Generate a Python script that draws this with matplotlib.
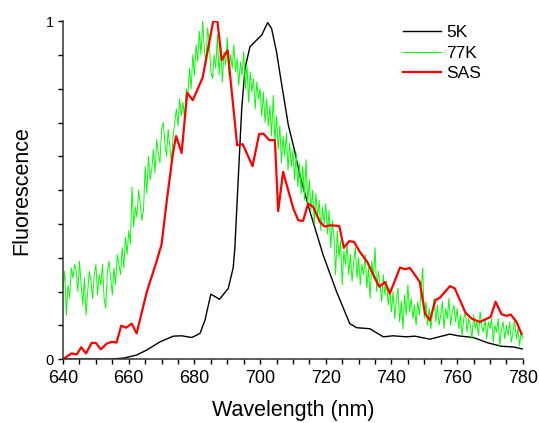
import numpy as np
import matplotlib
matplotlib.use("Agg")
from matplotlib import pyplot as plt
from matplotlib.ticker import MultipleLocator

# 5K emission (wavelength, intensity)
wl_5k = [640, 654.3, 658.4, 662.4, 665.5, 669.5, 673.6, 676.1, 679.2, 681.7, 683.2,
         685.0, 686.3, 687.6, 690.3, 691.8, 692.3, 693.3, 694.4, 695.4, 696.9, 698.4,
         700.5, 702.3, 703.5, 705.0, 706.6, 708.6, 710.6, 712.1, 715.2, 719.2, 723.3,
         727.3, 729.4, 733.4, 737.5, 740.5, 744.6, 747.1, 751.7, 757.8, 760.3, 764.9,
         769.4, 773.5, 777.1, 780]
fl_5k = [0.0, 0.0, 0.003, 0.012, 0.027, 0.051, 0.068, 0.069, 0.064, 0.076, 0.115,
         0.192, 0.185, 0.177, 0.209, 0.27, 0.327, 0.525, 0.741, 0.86, 0.924, 0.939,
         0.959, 0.996, 0.978, 0.909, 0.811, 0.692, 0.613, 0.544, 0.436, 0.308, 0.199,
         0.105, 0.093, 0.09, 0.066, 0.069, 0.066, 0.068, 0.059, 0.074, 0.069, 0.064,
         0.048, 0.038, 0.036, 0.03]

# 77K emission, 0.5 nm steps from 640 to 780
wl_77k = np.arange(640, 780.5, 0.5)
fl_77k = [
    0.21, 0.26, 0.13, 0.22, 0.18, 0.27, 0.24, 0.28, 0.26, 0.20, 0.29, 0.22, 0.16, 0.24, 0.13, 0.20, 0.26, 0.23, 0.18, 0.25,
    0.28, 0.19, 0.25, 0.22, 0.28, 0.18, 0.15, 0.26, 0.29, 0.24, 0.19, 0.27, 0.22, 0.31, 0.28, 0.25, 0.33, 0.27, 0.36, 0.31,
    0.38, 0.34, 0.51, 0.39, 0.45, 0.42, 0.50, 0.46, 0.41, 0.44, 0.57, 0.49, 0.60, 0.53, 0.56, 0.62, 0.55, 0.65, 0.61, 0.58,
    0.68, 0.70, 0.64, 0.60, 0.68, 0.63, 0.58, 0.66, 0.70, 0.74, 0.69, 0.77, 0.72, 0.76, 0.71, 0.80, 0.78, 0.86, 0.80, 0.90,
    0.84, 0.93, 0.88, 0.97, 0.90, 1.00, 0.92, 0.87, 0.98, 0.94, 0.85, 0.83, 0.90, 0.86, 0.96, 0.84, 0.93, 0.82, 0.91, 0.87,
    0.95, 0.84, 0.90, 0.86, 0.93, 0.85, 0.89, 0.81, 0.88, 0.84, 0.91, 0.80, 0.87, 0.76, 0.85, 0.79, 0.83, 0.74, 0.82, 0.77,
    0.80, 0.72, 0.79, 0.70, 0.77, 0.69, 0.75, 0.66, 0.78, 0.64, 0.72, 0.62, 0.69, 0.58, 0.66, 0.60, 0.67, 0.56, 0.64, 0.57,
    0.62, 0.53, 0.61, 0.51, 0.58, 0.49, 0.57, 0.47, 0.59, 0.46, 0.53, 0.44, 0.50, 0.40, 0.49, 0.42, 0.47, 0.38, 0.45, 0.40,
    0.46, 0.37, 0.44, 0.33, 0.41, 0.36, 0.25, 0.38, 0.30, 0.35, 0.22, 0.32, 0.28, 0.34, 0.25, 0.31, 0.23, 0.29, 0.33, 0.24,
    0.30, 0.22, 0.28, 0.25, 0.31, 0.21, 0.27, 0.18, 0.29, 0.24, 0.33, 0.20, 0.26, 0.22, 0.17, 0.25, 0.19, 0.23, 0.16, 0.21,
    0.14, 0.20, 0.12, 0.18, 0.21, 0.11, 0.17, 0.09, 0.19, 0.13, 0.22, 0.14, 0.18, 0.12, 0.16, 0.10, 0.17, 0.13, 0.20, 0.27,
    0.12, 0.17, 0.10, 0.15, 0.09, 0.14, 0.18, 0.11, 0.16, 0.10, 0.13, 0.17, 0.09, 0.15, 0.12, 0.18, 0.10, 0.14, 0.16, 0.11,
    0.15, 0.09, 0.13, 0.07, 0.12, 0.14, 0.08, 0.12, 0.10, 0.06, 0.13, 0.09, 0.11, 0.07, 0.14, 0.10, 0.08, 0.12, 0.06, 0.11,
    0.09, 0.12, 0.05, 0.10, 0.08, 0.12, 0.04, 0.09, 0.11, 0.06, 0.10, 0.07, 0.11, 0.05, 0.08, 0.12, 0.06, 0.09, 0.04, 0.08,
    0.06]

# species associated spectrum
wl_sas = [640, 642.6, 644.2, 645.5, 647, 648.7, 650, 651.5, 653.3, 654.8, 656.3, 657.7,
          659.2, 660.9, 662.4, 665.5, 668.5, 670, 671.6, 673.4, 674.4, 676.1, 677.8,
          679.5, 682.5, 685.7, 687, 688.3, 690.1, 693, 694.7, 697.7, 699.7, 701, 702.8,
          704.5, 705.5, 707, 710.1, 711.6, 713.1, 714.6, 716.2, 718.2, 719.7, 721.3,
          724.1, 725.5, 727.1, 728.6, 730.4, 732.6, 735, 736.3, 738, 739.5, 742.6,
          744.1, 745.6, 748.6, 750.2, 751.7, 753.4, 754.7, 757.8, 759.3, 762.5, 764.4,
          766.9, 770.2, 771.7, 773.5, 775, 776.3, 778.1, 779.6]
fl_sas = [0.0, 0.017, 0.014, 0.035, 0.017, 0.048, 0.048, 0.029, 0.046, 0.051, 0.049, 0.099,
          0.093, 0.105, 0.076, 0.199, 0.29, 0.34, 0.47, 0.605, 0.66, 0.61, 0.788,
          0.766, 0.833, 0.999, 1.0, 0.885, 0.914, 0.633, 0.636, 0.571, 0.666, 0.667, 0.648,
          0.648, 0.438, 0.554, 0.446, 0.411, 0.409, 0.46, 0.45, 0.406, 0.392, 0.396,
          0.394, 0.329, 0.349, 0.347, 0.317, 0.288, 0.239, 0.214, 0.228, 0.194, 0.271,
          0.266, 0.27, 0.229, 0.135, 0.115, 0.175, 0.181, 0.216, 0.209, 0.138, 0.12,
          0.11, 0.125, 0.17, 0.133, 0.128, 0.132, 0.11, 0.074]

plt.rcParams['font.family'] = ['Liberation Sans', 'DejaVu Sans']

fig = plt.figure(figsize=(5.39, 4.23), dpi=100)
ax = fig.add_axes([0.117, 0.151, 0.853, 0.799])

ax.plot(wl_5k, fl_5k, color='black', lw=1.0, label='5K')
ax.plot(wl_77k, fl_77k, color='#00ff00', lw=0.7, label='77K')
ax.plot(wl_sas, fl_sas, color='#ff0000', lw=1.6, label='SAS')

ax.set_xlim(640, 780)
ax.set_ylim(0, 1)
ax.xaxis.set_major_locator(MultipleLocator(20))
ax.xaxis.set_minor_locator(MultipleLocator(5))
ax.set_yticks(np.arange(0, 1.01, 0.1))
ax.set_yticklabels(['0'] + [''] * 9 + ['1'])
ax.tick_params(axis='x', which='both', direction='out', length=3.5, width=1, labelsize=13, pad=4)
ax.tick_params(axis='y', which='both', direction='out', length=3.5, width=1, labelsize=10.5, pad=3)
for s in ['top', 'right']:
    ax.spines[s].set_visible(False)
for s in ['left', 'bottom']:
    ax.spines[s].set_linewidth(1.1)
    ax.spines[s].set_color('#333333')

ax.set_xlabel('Wavelength (nm)', fontsize=15.5, labelpad=10)
ax.set_ylabel('Fluorescence', fontsize=15.5, labelpad=10)

ax.legend(loc='upper left', bbox_to_anchor=(0.739, 0.988), frameon=False, fontsize=12.5,
          handlelength=2.2, handletextpad=0.3, labelspacing=0.3,
          borderaxespad=0, borderpad=0)

fig.savefig('out.png', dpi=100)
